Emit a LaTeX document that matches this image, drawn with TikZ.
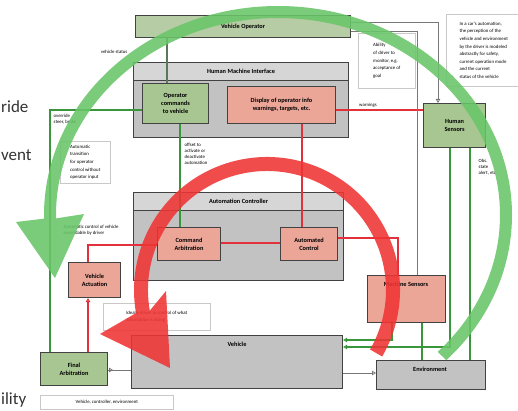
\documentclass[tikz,border=0pt]{standalone}
\usepackage{fontspec}
\setmainfont{Carlito}
\usetikzlibrary{arrows.meta,decorations.markings}
\definecolor{gfill}{RGB}{168,198,146}
\definecolor{opfill}{RGB}{182,204,164}
\definecolor{rfill}{RGB}{236,166,152}
\definecolor{kfill}{RGB}{194,194,194}
\definecolor{tfill}{RGB}{214,214,214}
\definecolor{bord}{RGB}{66,66,66}
\definecolor{glinec}{RGB}{58,150,58}
\definecolor{rlinec}{RGB}{226,48,60}
\definecolor{klinec}{RGB}{120,120,120}
\definecolor{oplinec}{RGB}{90,120,90}
\definecolor{notebd}{RGB}{200,200,200}
\definecolor{garc}{RGB}{104,198,104}
\definecolor{rarc}{RGB}{240,52,52}
\begin{document}
\begin{tikzpicture}[x=1pt,y=-1pt,
  bx/.style={draw=bord, line width=1.1pt, anchor=north west, inner sep=1pt, align=center,
    font=\fontsize{6.3}{8}\selectfont\bfseries},
  bxg/.style={bx, fill=gfill},
  bxo/.style={bx, fill=opfill},
  bxr/.style={bx, fill=rfill},
  bxk/.style={bx, fill=kfill},
  cont/.style={draw=bord, line width=1.4pt, fill=kfill, anchor=north west},
  tbar/.style={draw=bord, line width=1.1pt, fill=tfill, anchor=north west, inner sep=1pt,
    font=\fontsize{6.3}{8}\selectfont\bfseries},
  btxt/.style={inner sep=0.5pt, font=\fontsize{6.3}{8}\selectfont\bfseries},
  notebox/.style={draw=notebd, fill=white, line width=0.5pt, anchor=north west, align=left,
    inner sep=1.5pt, font=\fontsize{4.8}{7.6}\selectfont},
  lbl/.style={align=left, inner sep=0.5pt, font=\fontsize{4.8}{6}\selectfont},
  bigtxt/.style={inner sep=0pt, font=\fontsize{17}{20}\selectfont, text=black!80},
  gcon/.style={draw=glinec, line width=1.2pt},
  rcon/.style={draw=rlinec, line width=1.2pt},
  kcon/.style={draw=klinec, line width=0.8pt},
  ocon/.style={draw=oplinec, line width=1.2pt},
  otip/.style={-{Triangle[open,length=4pt,width=4.5pt]}},
  arcfill/.style={fill opacity=0.88}
]
\useasboundingbox (0,0) rectangle (518,411);
\fill[white] (0,0) rectangle (518,411);

% cropped slide text on the left
\node[bigtxt, anchor=base west] (w1) at (1,113) {ride};
\node[bigtxt, anchor=base west] (w2) at (1,161) {vent};
\node[bigtxt, anchor=base west] (w3) at (1,404) {ility};

% containers
\node[cont, minimum width=215pt, minimum height=75pt] (hmi) at (133,62) {};
\node[tbar, minimum width=215pt, minimum height=18pt] (hmiT) at (133,62) {Human Machine Interface};
\node[cont, minimum width=210pt, minimum height=88pt] (ac) at (133,192) {};
\node[tbar, minimum width=210pt, minimum height=18pt] (acT) at (133,192) {Automation Controller};

% boxes
\node[bxo, minimum width=215pt, minimum height=22pt] (op) at (135,15) {Vehicle Operator};
\node[bxg, minimum width=66pt, minimum height=40pt] (mon) at (142,83) {Operator\\commands\\to vehicle};
\node[bxr, minimum width=108pt, minimum height=37pt] (disp) at (227,86) {Display of operator info\\warnings, targets, etc.};
\node[bxg, minimum width=62pt, minimum height=44pt] (hs) at (423,103) {Human\\Sensors};
\node[bxr, minimum width=63pt, minimum height=33pt] (ca) at (157,227) {Command\\Arbitration};
\node[bxr, minimum width=57pt, minimum height=33pt] (acl) at (280,227) {Automated\\Control};
\node[bxr, minimum width=52pt, minimum height=35pt] (va) at (68,262) {Vehicle\\Actuation};
\node[bxr, minimum width=78pt, minimum height=47pt] (ms) at (367,275) {};
\node[btxt] (msT) at (406,284) {Machine Sensors};
\node[bxg, minimum width=67pt, minimum height=33pt] (fa) at (40,352) {Final\\Arbitration};
\node[bxk, minimum width=211pt, minimum height=53pt] (veh) at (131,335) {};
\node[btxt] (vehT) at (237,344) {Vehicle};
\node[bxk, minimum width=109pt, minimum height=29pt] (env) at (376,360) {};
\node[btxt] (envT) at (430,369) {Environment};

% notes
\node[notebox, minimum width=75pt, minimum height=72pt] (n1) at (446,14) {In a car's automation,\\the perception of the\\vehicle and environment\\by the driver is modeled\\abstractly for safety,\\current operation mode\\and the current\\status of the vehicle};
\node[notebox, minimum width=57pt, minimum height=55pt] (n2) at (358,33) {Ability\\of driver to\\monitor, e.g.\\acceptance of\\goal};
\node[notebox, minimum width=50pt, minimum height=42pt] (n3) at (60,141) {Automatic\\transition\\for operator\\control without\\operator input};
\node[notebox, minimum width=107pt, minimum height=27pt, font=\fontsize{4.8}{6.5}\selectfont] (n4) at (103,303) {Ideally driver in control of what\\automation is doing};
\node[notebox, minimum width=133pt, minimum height=14pt, align=center, font=\fontsize{4.8}{6}\selectfont] (n5) at (40,395) {Vehicle, controller, environment};

% connectors
\draw[ocon] (167,0 |- op.south) -- (167,0 |- mon.north);
\draw[gcon] (mon.west |- 0,110) -- (50,110) -- (50,0 |- fa.north);
\draw[gcon] (180,0 |- mon.south) -- (180,0 |- ca.north);
\draw[rcon] (302,0 |- disp.south) -- (302,0 |- acl.north);
\draw[rcon] (disp.east |- 0,110) -- (hs.west |- 0,110);
\draw[rcon] (ca.east |- 0,243) -- (acl.west |- 0,243);
\draw[rcon] (88,0 |- va.north) -- (88,245) -- (ca.west |- 0,245);
\draw[rcon] (acl.east |- 0,238) -- (398,238) -- (398,0 |- ms.north);
\draw[rcon, {Triangle[open,length=4pt,width=4.5pt]}-] (88,0 |- va.south) -- (88,0 |- fa.north);
\draw[kcon, postaction={decorate}, decoration={markings, mark=at position 5pt with {\arrow{Triangle[open,length=4pt,width=4.5pt]}}}] (fa.east |- 0,370) -- (veh.west |- 0,370);
\draw[kcon, otip] (veh.east |- 0,373) -- (env.west |- 0,373);
\draw[gcon, otip] (392,0 |- ms.south) -- (392,340) -- (veh.east |- 0,340);
\draw[gcon, otip] (450,0 |- hs.south) -- (450,347) -- (veh.east |- 0,347);
\draw[gcon] (422,0 |- ms.south) -- (422,0 |- env.north);
\draw[gcon] (470,0 |- hs.south) -- (470,0 |- env.north);
\draw[kcon, otip] (op.east |- 0,22) -- (438,22) -- (438,0 |- hs.north);
\draw[kcon] (op.east |- 0,31) -- (417,31) -- (417,0 |- ms.north);

% labels
\node[lbl, anchor=east] (l1) at (128,52) {vehicle status};
\node[lbl, anchor=north west] (l2) at (53,113) {override\\steer, brake};
\node[lbl, anchor=north west] (l3) at (184,142) {offset to\\activate or\\deactivate\\automation};
\node[lbl, anchor=south] (l4) at (368,108) {warnings};
\node[lbl, anchor=north west] (l5) at (478,158) {Obs.\\state\\alert, etc.};
\node[lbl, anchor=north west] (l6) at (63,224) {Automatic control of vehicle\\overridable by driver};

% big loop arrows
\fill[garc, arcfill] ([shift={(278,215)}]44:234 and 209)
  arc[start angle=44, end angle=-181, x radius=234, y radius=209]
  -- (16,222) -- (55,278) -- (84,214)
  -- ([shift={(278,215)}]-181:222 and 197)
  arc[start angle=-181, end angle=44, x radius=222, y radius=197] -- cycle;
\fill[rarc, arcfill] ([shift={(267,290)}]30:133)
  arc[start angle=30, end angle=-190, radius=133]
  -- (100,334) -- (170,368) -- (166,291)
  -- ([shift={(267,290)}]-190:119)
  arc[start angle=-190, end angle=30, radius=119] -- cycle;
\end{tikzpicture}
\end{document}
